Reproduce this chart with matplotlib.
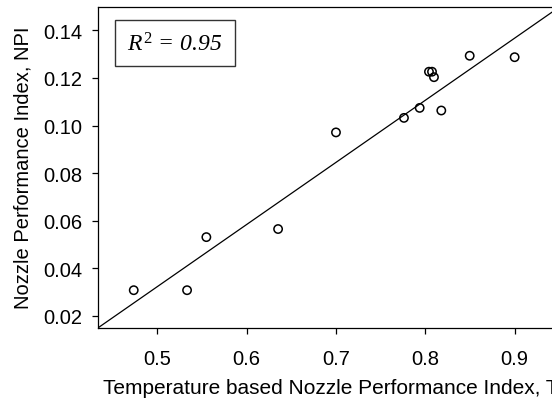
import matplotlib
matplotlib.use("Agg")
import matplotlib.pyplot as plt
from matplotlib.patches import Rectangle

# Data
ti = [0.4736, 0.5333, 0.5549, 0.6352, 0.700, 0.7761, 0.7937, 0.8179,
      0.8041, 0.8075, 0.8097, 0.8497, 0.900]
npi = [0.0308, 0.0308, 0.0531, 0.0565, 0.0971, 0.1032, 0.1074, 0.1063,
       0.1226, 0.1226, 0.1203, 0.1293, 0.1287]

# regression line
slope = 0.261
intercept = -0.0982

x_ticks = [0.5, 0.6, 0.7, 0.8, 0.9]
y_ticks = [0.02, 0.04, 0.06, 0.08, 0.10, 0.12, 0.14]

plt.rcParams["font.family"] = ["Liberation Sans", "DejaVu Sans"]
plt.rcParams["mathtext.fontset"] = "custom"
plt.rcParams["mathtext.it"] = "Liberation Serif:italic"
plt.rcParams["mathtext.rm"] = "Liberation Serif"

fig = plt.figure(figsize=(5.52, 4.02), dpi=100)
# axes runs past the right edge of the figure, like the cropped original
ax_w = 559.3 - 98
ax_h = 328.8 - 7.5
ax = fig.add_axes([98 / 552, 1 - 328.8 / 402, ax_w / 552, ax_h / 402])

ax.scatter(ti, npi, s=36, facecolors="none", edgecolors="black", linewidths=1.1, zorder=3)
ax.axline((0, intercept), slope=slope, color="black", linewidth=0.9)

ax.set_xlim(0.4336, 0.95)
ax.set_ylim(0.015, 0.15)
ax.set_xticks(x_ticks)
ax.set_xticklabels(["%.1f" % v for v in x_ticks])
ax.set_yticks(y_ticks)
ax.set_yticklabels(["%.2f" % v for v in y_ticks])

for side in ["left", "bottom", "top"]:
    ax.spines[side].set_linewidth(0.9)
ax.spines["right"].set_visible(False)

ax.tick_params(axis="x", direction="out", length=4.5, width=0.9, pad=11, labelsize=14.5)
ax.tick_params(axis="y", direction="out", length=4.5, width=0.9, pad=6.5, labelsize=14.5)

ax.set_ylabel("Nozzle Performance Index, NPI", fontsize=14.5, labelpad=8)
ax.set_xlabel("Temperature based Nozzle Performance Index, TI", fontsize=15)
ax.xaxis.label.set_horizontalalignment("left")
ax.xaxis.set_label_coords((103 - 98) / ax_w, -(379 - 328.8) / ax_h)

# R^2 box
box = Rectangle((115, 402 - 66.7), 120.3, 45.7, transform=None, fill=False,
                edgecolor="#333333", linewidth=1.0, zorder=4)
fig.patches.append(box)
fig.text(175 / 552, 1 - 45 / 402, r"$R^2$ = 0.95", ha="center", va="center",
         fontsize=17, family="Liberation Serif", style="italic")

fig.savefig("out.png", dpi=100)
